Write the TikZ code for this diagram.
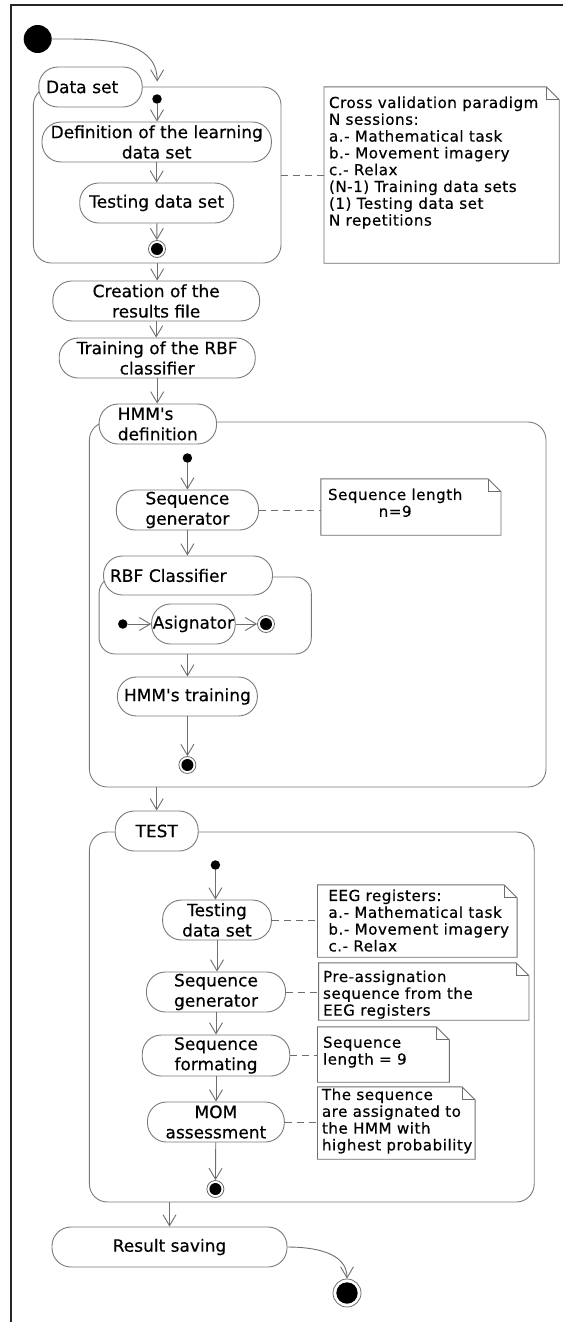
\documentclass[tikz,border=0pt]{standalone}
\usepackage{fontspec}
\setmainfont[Ligatures=TeXOff, FakeBold=0.4]{DejaVu Sans}
\newfontfamily\notefont[Ligatures=TeXOff, LetterSpace=3.5, FakeBold=0.4]{DejaVu Sans}
\usetikzlibrary{arrows.meta}
\definecolor{lc}{HTML}{6E6E6E}
\definecolor{bc}{HTML}{7A7A7A}
\tikzset{
  pill/.style={draw=bc, fill=white, line width=0.9pt, rounded corners=19pt, inner sep=0pt,
    minimum height=40pt, align=center, font=\fontsize{17}{20.3}\selectfont},
  lpill/.style={pill, align=left},
  cont/.style={draw=bc, line width=0.9pt, rounded corners=18pt, inner sep=0pt},
  flow/.style={draw=lc, line width=0.9pt, -{Straight Barb[length=11pt,width=13pt]}},
  link/.style={draw=lc, line width=0.9pt, dash pattern=on 7pt off 5pt},
  notebox/.style={inner sep=0pt},
  notedraw/.style={draw=lc, line width=0.9pt},
  notetext/.style={inner sep=0pt, anchor=north west, align=left, font=\notefont\fontsize{15.1}{16.8}\selectfont},
  initdot/.style={circle, fill=black, inner sep=0pt, minimum size=9.5pt},
  finring/.style={circle, draw=lc, line width=0.8pt, fill=white, inner sep=0pt, minimum size=17pt},
}
\newcommand\dognote[1]{%
  \draw[notedraw, fill=white] (#1.north west) -- ([xshift=-13pt]#1.north east) -- ([yshift=-13pt]#1.north east) -- (#1.south east) -- (#1.south west) -- cycle;
  \draw[notedraw] ([xshift=-13pt]#1.north east) |- ([yshift=-13pt]#1.north east);}
\newcommand\finmark[1]{\fill[black] (#1) circle (6pt);}
\begin{document}
\begin{tikzpicture}[x=1pt,y=-1pt]
\useasboundingbox (0,0) rectangle (563,1322);
% frame
\draw[line width=2pt, black!85] (11,1322) -- (11,5) -- (563,5);

% containers
\node[cont, minimum width=247.6pt, minimum height=176pt] (dsC) at (157.2,175) {};
\node[cont, minimum width=456.6pt, minimum height=365pt] (hmmC) at (317.7,604.5) {};
\node[cont, rounded corners=16pt, minimum width=212.2pt, minimum height=77pt] (rbfC) at (205.2,615.5) {};
\node[cont, minimum width=444.8pt, minimum height=370pt] (testC) at (311.8,1017) {};

% notes
\node[notebox, minimum width=234.8pt, minimum height=176pt] (note1) at (441.6,175) {};
\node[notebox, minimum width=179.8pt, minimum height=56pt] (note2) at (410.9,507) {};
\node[notebox, minimum width=199.3pt, minimum height=72pt] (note3) at (417.3,921) {};
\node[notebox, minimum width=210pt, minimum height=57pt] (note4) at (423.8,991.5) {};
\node[notebox, minimum width=131.4pt, minimum height=55pt] (note5) at (383.4,1054.5) {};
\node[notebox, minimum width=157.3pt, minimum height=72pt] (note6) at (396.3,1123) {};
\dognote{note1}\dognote{note2}\dognote{note3}\dognote{note4}\dognote{note5}\dognote{note6}
\node[notetext] (n1t) at ([xshift=4.8pt,yshift=-9.5pt]note1.north west) {Cross validation paradigm\\N sessions:\\a.- Mathematical task\\b.- Movement imagery\\c.- Relax\\(N-1) Training data sets\\(1) Testing data set\\N repetitions};
\node[notetext, align=center] (n2t) at ([xshift=7pt,yshift=-9.5pt]note2.north west) {Sequence length\\n=9};
\node[notetext] (n3t) at ([xshift=10.8pt,yshift=-4.5pt]note3.north west) {EEG registers:\\a.- Mathematical task\\b.- Movement imagery\\c.- Relax};
\node[notetext] (n4t) at ([xshift=4.3pt,yshift=-7.5pt]note4.north west) {Pre-assignation\\sequence from the\\EEG registers};
\node[notetext] (n5t) at ([xshift=5.3pt,yshift=-9.5pt]note5.north west) {Sequence\\length = 9};
\node[notetext] (n6t) at ([xshift=4.3pt,yshift=-1.5pt]note6.north west) {The sequence\\are assignated to\\the HMM with\\highest probability};

% pills
\node[lpill, minimum width=103.4pt, text width=89pt] (dsL) at (90.5,87) {Data set};
\node[pill, minimum width=229.4pt] (def) at (156.7,142) {Definition of the learning\\data set};
\node[pill, minimum width=154pt] (tds) at (156.7,203) {Testing data set};
\node[pill, minimum width=206.8pt] (cre) at (156.2,301) {Creation of the\\results file};
\node[pill, minimum width=196pt] (trn) at (157.2,358) {Training of the RBF\\classifier};
\node[lpill, minimum width=117.4pt, text width=80pt] (hmmL) at (157.8,424) {HMM's\\definition};
\node[pill, minimum width=142.2pt] (sg1) at (187.4,510) {Sequence\\generator};
\node[lpill, minimum width=169pt, minimum height=39pt, text width=156pt] (rbfL) at (188,575.5) {RBF Classifier};
\node[pill, minimum width=83.6pt] (asg) at (193.4,624) {Asignator};
\node[pill, minimum width=140pt, minimum height=39pt] (hmt) at (187.4,696.5) {HMM's training};
\node[pill, minimum width=83pt] (testL) at (156.7,831) {TEST};
\node[pill, minimum width=108.8pt] (tds2) at (217,920) {Testing\\data set};
\node[pill, minimum width=139pt] (sg2) at (216,992) {Sequence\\generator};
\node[pill, minimum width=147.5pt, minimum height=41pt] (sf) at (216,1055.5) {Sequence\\formating};
\node[pill, minimum width=136.8pt] (mom) at (215.9,1122) {MOM\\assessment};
\node[pill, minimum width=235pt] (res) at (169.5,1247) {Result saving};

% initial / final nodes
\node[circle, fill=black, inner sep=0pt, minimum size=28pt] (start) at (37.7,39) {};
\node[initdot] (ini1) at (157,99) {};
\node[initdot] (ini2) at (187.4,458) {};
\node[initdot] (ini3) at (122.8,624) {};
\node[initdot] (ini4) at (215.4,865) {};
\node[finring] (fin1) at (157,249) {}; \finmark{fin1}
\node[finring] (fin2) at (187.4,765) {}; \finmark{fin2}
\node[finring] (fin3) at (266,624) {}; \finmark{fin3}
\node[finring] (fin4) at (215.4,1189) {}; \finmark{fin4}
\node[circle, draw=lc, line width=0.8pt, fill=white, inner sep=0pt, minimum size=28pt] (end) at (347,1293) {};
\fill[black] (end) circle (10.7pt);

% control flow
\draw[flow] (start.east) to[out=0,in=90] ([yshift=5pt]dsC.north);
\draw[flow] (ini1) -- (ini1 |- def.north);
\draw[flow] (def) -- (tds);
\draw[flow] (tds) -- (fin1);
\draw[flow] (dsC.south) -- (dsC.south |- cre.north);
\draw[flow] (cre.south) -- (cre.south |- trn.north);
\draw[flow] (trn.south) -- (trn.south |- hmmL.north);
\draw[flow] (ini2) -- (ini2 |- sg1.north);
\draw[flow] (sg1.south) -- (sg1.south |- rbfL.north);
\draw[flow] (ini3) -- (asg);
\draw[flow] (asg) -- (fin3);
\draw[flow] (hmt.north |- rbfC.south) -- (hmt.north);
\draw[flow] (hmt) -- (fin2);
\draw[flow] (testL.north |- hmmC.south) -- (testL.north);
\draw[flow] (ini4) -- (ini4 |- tds2.north);
\draw[flow] (tds2.south) -- (tds2.south |- sg2.north);
\draw[flow] (sg2) -- (sf);
\draw[flow] (sf.south) -- (sf.south |- mom.north);
\draw[flow] (mom) -- (fin4);
\draw[flow] (res.north |- testC.south) -- (res.north);
\draw[flow] (res.east) to[out=0,in=90] (end.north);

% note links
\draw[link] (dsC.east) -- (note1.west);
\draw[link] (sg1.east) -- (sg1.east -| note2.west);
\draw[link] (tds2.east) -- (tds2.east -| note3.west);
\draw[link] (sg2.east) -- (sg2.east -| note4.west);
\draw[link] (sf.east) -- (sf.east -| note5.west);
\draw[link] (mom.east) -- (mom.east -| note6.west);
\end{tikzpicture}
\end{document}
